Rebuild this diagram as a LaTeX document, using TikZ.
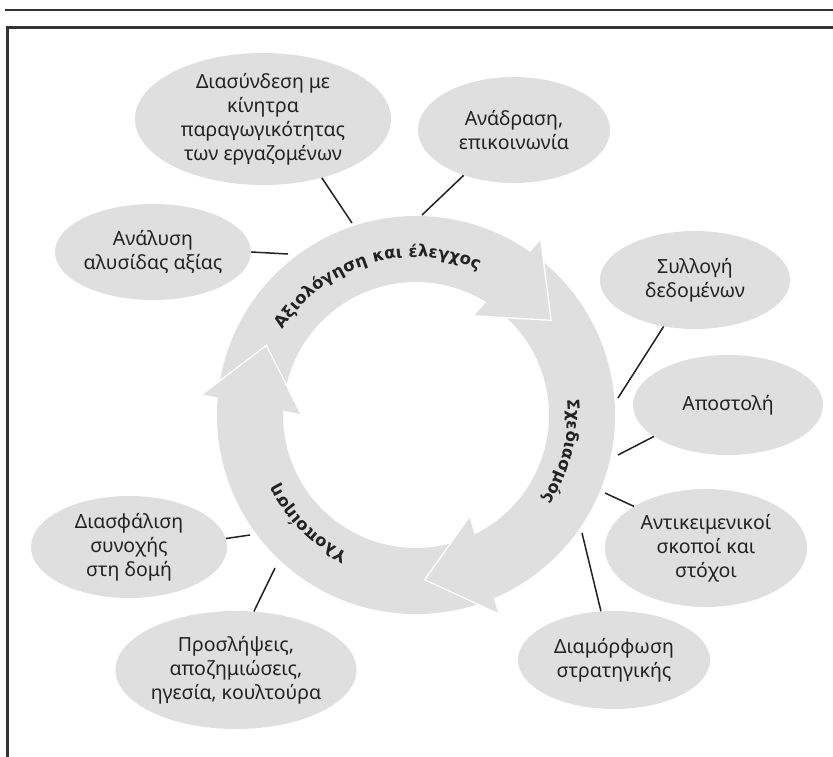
\documentclass[tikz,border=0pt]{standalone}
\usepackage{fontspec}
\setmainfont{Noto Sans}
\newfontfamily\ringfam{DejaVu Sans}
\usetikzlibrary{shapes.geometric,decorations.text}
\definecolor{fillgray}{HTML}{DFDFDF}
\definecolor{framegray}{HTML}{333333}
\definecolor{inkgray}{HTML}{222222}
\newcommand\ringfont{\ringfam\bfseries\fontsize{16.5}{20}\selectfont}
\begin{document}
\begin{tikzpicture}[x=1pt,y=1pt,
  bubble/.style={ellipse, fill=fillgray, inner sep=0pt, align=center,
    font=\fontsize{19.5}{24}\selectfont, text=inkgray},
  link/.style={line width=1.5pt, inkgray},
  headedge/.style={white, line width=1.3pt, line join=miter},
  ringtext/.style={decorate, decoration={text along path, text align=center,
    text color=inkgray, text={|\ringfont|#1}}},
]
\clip (0,0) rectangle (833,756);
\fill[white] (0,0) rectangle (833,756);

% page rule and frame
\draw[framegray, line width=2.5pt] (5,746) -- (840,746);
\draw[framegray, line width=3pt] (7,-10) -- (7,728) -- (840,728);

% cycle ring with three arrow heads
\coordinate (O) at (416,341);
\begin{scope}[shift={(O)}]
  \fill[fillgray, even odd rule] (0,0) circle[radius=199] (0,0) circle[radius=133];
  \foreach \t in {35,-87,155} {
    \fill[fillgray] ({\t+19.5}:215) -- (\t:165) -- ({\t+24.6}:115) -- cycle;
    \draw[headedge] ({\t+19.5}:215) -- (\t:165) -- ({\t+24.6}:115);
  }
  \path[ringtext={Αξιολόγηση και έλεγχος}] (167:158) arc[start angle=167, end angle=47, radius=158];
  \path[ringtext={Σχεδιασμός}] (46:152) arc[start angle=46, end angle=-74, radius=152];
  \path[ringtext={Υλοποίηση}] (-75:154) arc[start angle=-75, end angle=-195, radius=154];
\end{scope}

% surrounding topics
\node[bubble, minimum width=256pt, minimum height=132pt] (A) at (263,637)
  {Διασύνδεση με\\κίνητρα\\παραγωγικότητας\\των εργαζομένων};
\node[bubble, minimum width=192pt, minimum height=106pt] (B) at (514,626)
  {Ανάδραση,\\επικοινωνία};
\node[bubble, minimum width=190pt, minimum height=96pt] (C) at (153,504)
  {Ανάλυση\\αλυσίδας αξίας};
\node[bubble, minimum width=190pt, minimum height=98pt] (D) at (695,476)
  {Συλλογή\\δεδομένων};
\node[bubble, minimum width=190pt, minimum height=100pt] (E) at (728,351)
  {Αποστολή};
\node[bubble, minimum width=202pt, minimum height=118pt] (F) at (706,208)
  {Αντικειμενικοί\\σκοποί και\\στόχοι};
\node[bubble, minimum width=192pt, minimum height=98pt] (G) at (614,96)
  {Διαμόρφωση\\στρατηγικής};
\node[bubble, minimum width=238pt, minimum height=118pt] (H) at (236,86)
  {Προσλήψεις,\\αποζημιώσεις,\\ηγεσία, κουλτούρα};
\node[bubble, minimum width=196pt, minimum height=102pt] (I) at (129,209)
  {Διασφάλιση\\συνοχής\\στη δομή};

% ring-side ends of the connectors
\coordinate (rA) at (352,533);
\coordinate (rB) at (422,541);
\coordinate (rC) at (288,502);
\coordinate (rD) at (618,358);
\coordinate (rE) at (618,301);
\coordinate (rF) at (605,263);
\coordinate (rG) at (582,223);
\coordinate (rH) at (275,188);
\coordinate (rI) at (250,221);

\draw[link] (A.-45) -- (rA);
\draw[link] (B.-138) -- (rB);
\draw[link] (C.east) -- (rC);
\draw[link] (D.-124) -- (rD);
\draw[link] (E.-157) -- (rE);
\draw[link] (F.150) -- (rF);
\draw[link] (G.105) -- (rG);
\draw[link] (H.73) -- (rH);
\draw[link] (I.5) -- (rI);
\end{tikzpicture}
\end{document}
